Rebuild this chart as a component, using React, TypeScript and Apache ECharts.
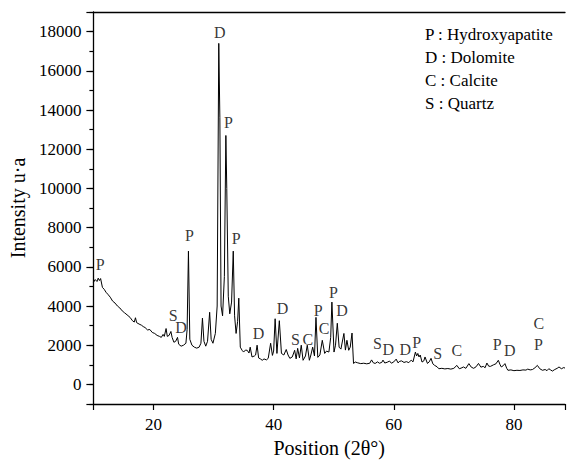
import React, { useEffect, useRef } from "react";
import * as echarts from "echarts";

// 2θ positions (degrees) and intensities
const positions = [
  10.0, 10.3, 10.6, 10.8, 11.0, 11.2, 11.5, 11.8, 12.1, 12.4, 12.8, 13.2, 13.6, 14.0, 14.4, 14.8,
  15.2, 15.6, 16.1, 16.5, 16.8, 17.0, 17.2, 17.6, 18.0, 18.3, 18.6, 19.0, 19.4, 19.8, 20.2, 20.6,
  21.0, 21.3, 21.6, 21.8, 22.1, 22.3, 22.6, 22.9, 23.1, 23.4, 23.7, 24.0, 24.2, 24.6, 25.0, 25.4,
  25.6, 25.82, 26.05, 26.4, 26.8, 27.2, 27.6, 27.9, 28.15, 28.4, 28.7, 29.0, 29.35, 29.6, 29.9, 30.3,
  30.6, 30.87, 31.05, 31.25, 31.5, 31.8, 32.05, 32.2, 32.45, 32.7, 33.0, 33.28, 33.5, 33.75, 34.0, 34.2,
  34.45, 34.75, 35.0, 35.3, 35.6, 35.9, 36.1, 36.4, 36.8, 37.0, 37.25, 37.5, 37.8, 38.1, 38.4, 38.8,
  39.1, 39.5, 39.8, 40.0, 40.25, 40.55, 40.95, 41.3, 41.7, 42.1, 42.4, 42.7, 43.1, 43.5, 43.75, 44.0,
  44.3, 44.6, 44.9, 45.3, 45.6, 45.95, 46.2, 46.5, 46.8, 47.05, 47.35, 47.7, 48.1, 48.5, 48.8, 49.2,
  49.5, 49.7, 50.05, 50.3, 50.6, 50.9, 51.2, 51.7, 51.95, 52.2, 52.5, 52.75, 53.05, 53.3, 53.6, 54.0,
  54.5, 55.0, 55.5, 56.0, 56.3, 56.6, 56.9, 57.3, 57.6, 58.0, 58.2, 58.5, 58.9, 59.3, 59.6, 60.0,
  60.4, 60.7, 61.0, 61.3, 61.7, 62.1, 62.5, 62.9, 63.2, 63.6, 63.8, 64.0, 64.2, 64.4, 64.7, 65.0,
  65.2, 65.6, 65.9, 66.2, 66.5, 66.8, 67.2, 67.5, 68.0, 68.5, 69.0, 69.5, 70.0, 70.5, 70.9, 71.2,
  71.6, 72.0, 72.5, 72.9, 73.3, 73.7, 74.1, 74.5, 74.9, 75.2, 75.5, 75.8, 76.1, 76.6, 77.0, 77.4,
  77.7, 77.9, 78.2, 78.5, 78.8, 79.0, 79.5, 80.0, 80.5, 81.0, 81.5, 82.0, 82.3, 82.7, 83.1, 83.5,
  83.9, 84.3, 84.75, 85.2, 85.5, 85.8, 86.1, 86.4, 86.8, 87.2, 87.5, 87.9, 88.3, 88.5,
];

const intensities = [
  5200, 5350, 5250, 5420, 5300, 5400, 4950, 4850, 4700, 4600, 4450, 4250, 4150, 4000, 3900, 3750,
  3650, 3550, 3420, 3250, 3180, 3400, 3150, 3080, 3020, 2950, 2900, 2780, 2800, 2650, 2600, 2500,
  2450, 2400, 2550, 2450, 2850, 2450, 2500, 2700, 2400, 2150, 2200, 2400, 2050, 1950, 2000, 2100,
  2800, 6800, 2300, 2000, 1900, 1850, 1900, 2100, 3380, 2200, 1950, 2200, 3680, 2300, 2100, 2600,
  4000, 17400, 13600, 4000, 3500, 5500, 12700, 10000, 4500, 3600, 4200, 6800, 3500, 2600, 3200, 4400,
  1900, 1740, 1650, 1750, 1740, 1600, 1900, 1400, 1450, 1500, 2000, 1350, 1300, 1230, 1300, 1250,
  1330, 2100, 1480, 1700, 3350, 1580, 3250, 1580, 1500, 1780, 1500, 1330, 1400, 1740, 1300, 1840,
  1350, 2000, 1230, 1450, 2000, 1230, 1500, 1900, 1450, 3420, 1380, 1500, 2250, 1580, 1700, 1650,
  2400, 4200, 1650, 2000, 3120, 1900, 1800, 2600, 1750, 2250, 1740, 1900, 2620, 1070, 1140, 1100,
  1060, 1080, 1050, 1080, 1250, 1100, 1070, 1150, 1080, 1120, 1240, 1090, 1130, 1190, 1080, 1150,
  1290, 1100, 1180, 1200, 1120, 1160, 1110, 1240, 1150, 1650, 1450, 1580, 1400, 1500, 1140, 1200,
  1400, 1070, 1150, 1330, 1050, 970, 900, 800, 820, 790, 810, 780, 820, 970, 800, 830,
  890, 820, 1060, 880, 820, 900, 1070, 880, 920, 850, 1090, 930, 920, 1000, 1050, 1230,
  1000, 890, 950, 1060, 820, 720, 740, 700, 720, 710, 740, 730, 780, 740, 760, 850,
  970, 800, 720, 760, 700, 800, 740, 680, 760, 820, 890, 800, 860, 830,
];

// phase markers placed above the peaks
const markerLetters = ["P", "S", "D", "P", "D", "P", "P", "D", "D", "S", "C", "P", "C", "P", "D", "S", "D", "D", "P", "S", "C", "P", "D", "P", "C"];
const markerX = [11.15, 23.3, 24.6, 26.0, 31.03, 32.46, 33.77, 37.5, 41.5, 43.65, 45.7, 47.4, 48.4, 49.95, 51.4, 57.3, 59.1, 61.9, 63.8, 67.3, 70.5, 77.2, 79.3, 84.1, 84.15];
const markerY = [6100, 3530, 2910, 7610, 17940, 13340, 7460, 2600, 3880, 2280, 2280, 3780, 2850, 4690, 3780, 2080, 1770, 1770, 2160, 1600, 1740, 2040, 1740, 2040, 3100];

const phaseKey = ["P : Hydroxyapatite", "D : Dolomite", "C : Calcite", "S : Quartz"];

const xMin = 10;
const xMax = 88.5;
const yMin = -1000;
const yMax = 19000;
const xTitle = "Position (2θ°)";
const yTitle = "Intensity u·a";

const FONT = "Liberation Serif";

export default function App() {
  const ref = useRef<HTMLDivElement>(null);

  useEffect(() => {
    if (!ref.current) return;
    const chart = echarts.init(ref.current, null, { renderer: "svg" });
    const axisColor = "#000";
    const option: any = {
      animation: false,
      backgroundColor: "#ffffff",
      grid: { left: 89, top: 12, right: -1, bottom: 61 },
      xAxis: [
        {
          type: "value",
          min: xMin,
          max: xMax,
          splitNumber: 4,
          position: "bottom",
          axisLine: { show: true, onZero: false, lineStyle: { color: axisColor, width: 1.3 } },
          axisTick: { show: true, length: 6, lineStyle: { color: axisColor, width: 1.2 } },
          axisLabel: {
            margin: 12,
            color: "#000",
            fontFamily: FONT,
            fontSize: 17,
            formatter: (v: number) => (v % 20 === 0 ? String(v) : ""),
          },
          splitLine: { show: false },
          name: xTitle,
          nameLocation: "middle",
          nameGap: 33,
          nameTextStyle: { color: "#000", fontFamily: FONT, fontSize: 20 },
        },
        {
          type: "value",
          min: xMin,
          max: xMax,
          position: "top",
          axisLine: { show: true, onZero: false, lineStyle: { color: axisColor, width: 1.3 } },
          axisTick: { show: false },
          axisLabel: { show: false },
          splitLine: { show: false },
        },
      ],
      yAxis: [
        {
          type: "value",
          min: yMin,
          max: yMax,
          splitNumber: 10,
          position: "left",
          axisLine: { show: true, onZero: false, lineStyle: { color: axisColor, width: 1.3 } },
          axisTick: { show: true, length: 7, lineStyle: { color: axisColor, width: 1.2 } },
          axisLabel: {
            margin: 12,
            color: "#000",
            fontFamily: FONT,
            fontSize: 17,
            formatter: (v: number) => (v % 2000 === 0 ? String(v) : ""),
          },
          splitLine: { show: false },
          name: yTitle,
          nameLocation: "middle",
          nameGap: 56,
          nameTextStyle: { color: "#000", fontFamily: FONT, fontSize: 20 },
        },
        {
          type: "value",
          min: yMin,
          max: yMax,
          interval: 1000,
          position: "left",
          axisLine: { show: false, onZero: false },
          axisTick: { show: true, length: 4, lineStyle: { color: axisColor, width: 1.2 } },
          axisLabel: { show: false },
          splitLine: { show: false },
        },
      ],
      graphic: [
        {
          type: "text",
          left: 425,
          top: 23,
          style: {
            text: phaseKey.join("\n"),
            fill: "#000",
            fontFamily: FONT,
            fontSize: 17,
            lineHeight: 23,
          },
        },
      ],
      series: [
        {
          type: "line",
          xAxisIndex: 0,
          yAxisIndex: 0,
          data: positions.map((x, i) => [x, intensities[i]]),
          showSymbol: false,
          symbol: "none",
          lineStyle: { color: "#000", width: 1 },
          z: 3,
        },
        {
          type: "scatter",
          xAxisIndex: 0,
          yAxisIndex: 0,
          symbolSize: 1,
          itemStyle: { color: "rgba(0,0,0,0)" },
          data: markerLetters.map((t, i) => ({ name: t, value: [markerX[i], markerY[i]] })),
          label: {
            show: true,
            position: "inside",
            formatter: "{b}",
            color: "#000",
            fontFamily: FONT,
            fontSize: 16,
          },
          z: 4,
        },
      ],
    };
    chart.setOption(option);
    return () => {
      chart.dispose();
    };
  }, []);

  return (
    <div
      ref={ref}
      style={{ position: "fixed", left: 0, top: 0, width: 568, height: 465, background: "#fff" }}
    />
  );
}
